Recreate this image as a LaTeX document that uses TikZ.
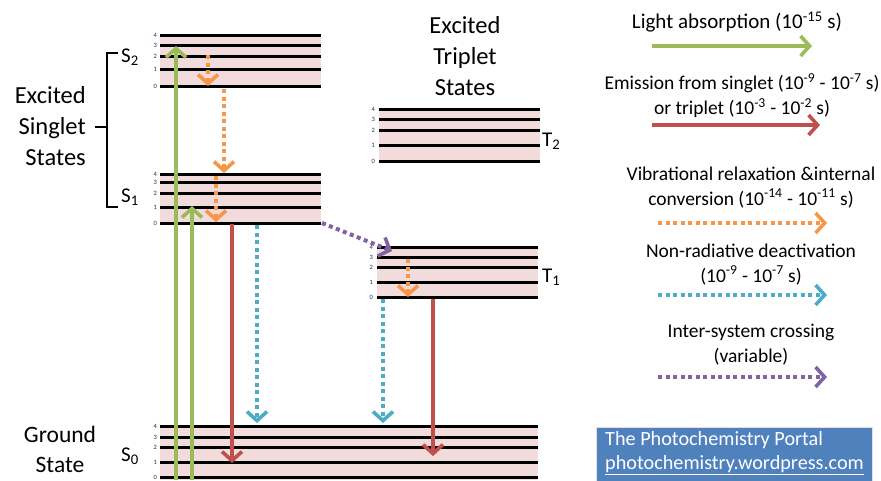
\documentclass[tikz,border=0pt]{standalone}
\usepackage{fontspec}
\setmainfont{Carlito}
\usetikzlibrary{arrows.meta}
\definecolor{cgreen}{HTML}{9BBB59}
\definecolor{cred}{HTML}{C0504D}
\definecolor{corange}{HTML}{F79646}
\definecolor{cblue}{HTML}{4BACC6}
\definecolor{cpurple}{HTML}{8064A2}
\definecolor{pinkband}{HTML}{F2DCDB}
\definecolor{boxblue}{HTML}{4F81BD}
\definecolor{numcol}{HTML}{1F2A5A}
\tikzset{
  lvl/.style={line width=3pt, black, line cap=butt},
  band/.style={fill=pinkband},
  num/.style={font=\fontsize{6.5}{7}\selectfont, text=numcol, anchor=east, inner sep=0pt},
  biglabel/.style={font=\fontsize{24.5}{31}\selectfont, inner sep=0pt},
  statelabel/.style={font=\fontsize{21}{21}\selectfont, inner sep=0pt, anchor=base west},
  legtext/.style={font=\fontsize{19.5}{25}\selectfont, inner sep=0pt, align=center},
  tipa/.style={-{Straight Barb[length=9pt,width=20pt,line width=3.6pt]}},
  solidarrow/.style={line width=3.8pt, tipa},
  dotarrow/.style={line width=4pt, dash pattern=on 4pt off 3.5pt, tipa},
}
\begin{document}
\begin{tikzpicture}[x=1pt,y=-1pt]
\useasboundingbox (0,0) rectangle (881,480);
% ---------- vibrational manifolds ----------
% S2
\fill[band] (160,35) rectangle (321,86);
\foreach \y/\n in {35/4,45/3,56/2,69/1,86/0}{
  \draw[lvl] (160,\y) -- (321,\y);
  \node[num] (stwo\n) at (157,\y) {\n};}
% S1
\fill[band] (160,174) rectangle (321,223);
\foreach \y/\n in {174/4,182/3,193/2,207/1,223/0}{
  \draw[lvl] (160,\y) -- (321,\y);
  \node[num] (sone\n) at (157,\y) {\n};}
% T2
\fill[band] (379,109) rectangle (540,161);
\foreach \y/\n in {109/4,119/3,130/2,145/1,161/0}{
  \draw[lvl] (379,\y) -- (540,\y);
  \node[num] (ttwo\n) at (375,\y) {\n};}
% T1
\fill[band] (377,247) rectangle (538,297);
\foreach \y/\n in {247/4,257/3,267/2,282/1,297/0}{
  \draw[lvl] (377,\y) -- (538,\y);
  \node[num] (tone\n) at (373,\y) {\n};}
% S0
\fill[band] (160,426) rectangle (538,480);
\foreach \y/\n in {426/4,437/3,447/2,462/1,477/0}{
  \draw[lvl] (160,\y) -- (538,\y);
  \node[num] (szero\n) at (157,\y) {\n};}
% ---------- labels ----------
\node[statelabel] (lS2) at (121,62) {S\textsubscript{2}};
\node[statelabel] (lS1) at (121,202) {S\textsubscript{1}};
\node[statelabel] (lT2) at (542,146) {T\textsubscript{2}};
\node[statelabel] (lT1) at (542,282) {T\textsubscript{1}};
\node[statelabel] (lS0) at (121,461) {S\textsubscript{0}};
\node[biglabel, align=right, anchor=east] (singlet) at (86,126) {Excited\\Singlet\\States};
\node[biglabel, align=center] (triplet) at (465,56) {Excited\\Triplet\\States};
\node[biglabel, font=\fontsize{23.5}{30}\selectfont, align=center] (ground) at (60,449) {Ground\\State};
% bracket
\draw[line width=2.5pt] (118,53) -- (107,53) -- (107,207) -- (118,207);
\draw[line width=2.5pt] (95,127) -- (107,127);
% ---------- transition end points ----------
\coordinate (ga1) at (176,480); \coordinate (gb1) at (176,46);
\coordinate (ga2) at (192,480); \coordinate (gb2) at (192,206);
\coordinate (oa1) at (208,55);  \coordinate (ob1) at (208,86);
\coordinate (oa2) at (224,89);  \coordinate (ob2) at (224,173);
\coordinate (oa3) at (216,176); \coordinate (ob3) at (216,222);
\coordinate (oa4) at (408,259); \coordinate (ob4) at (408,297);
\coordinate (ra1) at (232,224); \coordinate (rb1) at (232,463);
\coordinate (ra2) at (433,299); \coordinate (rb2) at (433,456);
\coordinate (ba1) at (257,225); \coordinate (bb1) at (257,423);
\coordinate (ba2) at (383,299); \coordinate (bb2) at (383,423);
\coordinate (pa1) at (322,223); \coordinate (pb1) at (392,251);
% ---------- transitions ----------
\draw[solidarrow, cgreen] (ga1) -- (gb1);
\draw[solidarrow, cgreen] (ga2) -- (gb2);
\draw[solidarrow, cred] (ra1) -- (rb1);
\draw[solidarrow, cred] (ra2) -- (rb2);
\draw[dotarrow, corange] (oa1) -- (ob1);
\draw[dotarrow, corange] (oa2) -- (ob2);
\draw[dotarrow, corange] (oa3) -- (ob3);
\draw[dotarrow, corange] (oa4) -- (ob4);
\draw[dotarrow, cblue] (ba1) -- (bb1);
\draw[dotarrow, cblue] (ba2) -- (bb2);
\draw[dotarrow, cpurple] (pa1) -- (pb1);
% ---------- legend ----------
\node[legtext, font=\fontsize{21}{25}\selectfont] (leg1) at (737,22) {Light absorption (10\textsuperscript{-15} s)};
\coordinate (lg1a) at (652,46); \coordinate (lg1b) at (812,46);
\draw[solidarrow, cgreen] (lg1a) -- (lg1b);
\node[legtext] (leg2) at (742,95.5) {Emission from singlet (10\textsuperscript{-9} - 10\textsuperscript{-7} s)\\or triplet (10\textsuperscript{-3} - 10\textsuperscript{-2} s)};
\coordinate (lg2a) at (652,125); \coordinate (lg2b) at (820,125);
\draw[solidarrow, cred] (lg2a) -- (lg2b);
\node[legtext] (leg3) at (751,187.5) {Vibrational relaxation \&internal\\conversion (10\textsuperscript{-14} - 10\textsuperscript{-11} s)};
\coordinate (lg3a) at (658,223); \coordinate (lg3b) at (827,223);
\draw[dotarrow, corange] (lg3a) -- (lg3b);
\node[legtext] (leg4) at (751,264.5) {Non-radiative deactivation\\(10\textsuperscript{-9} - 10\textsuperscript{-7} s)};
\coordinate (lg4a) at (658,295); \coordinate (lg4b) at (827,295);
\draw[dotarrow, cblue] (lg4a) -- (lg4b);
\node[legtext] (leg5) at (751,345) {Inter-system crossing\\(variable)};
\coordinate (lg5a) at (658,377); \coordinate (lg5b) at (827,377);
\draw[dotarrow, cpurple] (lg5a) -- (lg5b);
% ---------- portal box ----------
\node[fill=boxblue, draw=black!12, line width=1pt, minimum width=276pt, minimum height=56pt, anchor=north west, inner sep=0pt] (portal) at (596,427) {};
\node[legtext, font=\fontsize{20.2}{25}\selectfont, text=white, anchor=west] (portal1) at (605,440) {The Photochemistry Portal};
\node[legtext, font=\fontsize{20.2}{25}\selectfont, text=white, anchor=west] (portal2) at (605,465) {\underline{photochemistry.wordpress.com}};
\end{tikzpicture}
\end{document}
